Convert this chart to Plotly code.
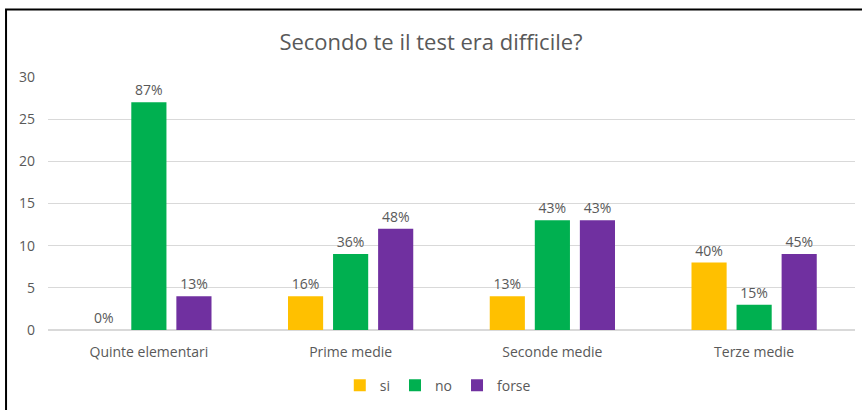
import plotly.graph_objects as go

categorie = ["Quinte elementari", "Prime medie", "Seconde medie", "Terze medie"]
si = [0, 4, 4, 8]
no = [27, 9, 13, 3]
forse = [4, 12, 13, 9]
perc_si = ["0%", "16%", "13%", "40%"]
perc_no = ["87%", "36%", "43%", "15%"]
perc_forse = ["13%", "48%", "43%", "45%"]

GRIGIO = "#595959"
FONT = "Open Sans"

fig = go.Figure()
for nome, valori, testi, colore in [("si", si, perc_si, "#FFC000"),
                                    ("no", no, perc_no, "#00B050"),
                                    ("forse", forse, perc_forse, "#7030A0")]:
    fig.add_trace(go.Bar(x=categorie, y=valori, name=nome,
                         marker={"color": colore, "line": {"width": 0}},
                         text=testi, textposition="outside",
                         textfont={"color": GRIGIO, "size": 14, "family": FONT},
                         cliponaxis=False))

fig.update_layout(
    width=862, height=410,
    margin={"l": 48, "r": 7, "t": 77, "b": 80, "autoexpand": False},
    paper_bgcolor="white", plot_bgcolor="white",
    font={"family": FONT, "color": GRIGIO, "size": 14},
    title={"text": "Secondo te il test era difficile?", "x": 0.5, "y": 0.897,
           "xanchor": "center", "yanchor": "middle",
           "font": {"size": 22, "color": GRIGIO, "family": FONT}},
    bargap=0.33, bargroupgap=0.22,
    xaxis={"showgrid": False, "tickfont": {"size": 14}, "ticks": "",
           "showline": True, "linecolor": "#D9D9D9", "automargin": False,
           "ticklabelstandoff": 9},
    yaxis={"range": [0, 30], "dtick": 5, "gridcolor": "#D9D9D9",
           "zeroline": True, "zerolinecolor": "#D9D9D9", "automargin": False,
           "tickfont": {"size": 14}, "ticklabelstandoff": 12},
    legend={"orientation": "h", "x": 0.483, "xanchor": "center",
            "y": -0.22, "yanchor": "middle", "font": {"size": 14},
            "itemwidth": 30},
    shapes=[{"type": "rect", "xref": "paper", "yref": "paper",
             "x0": -0.052, "x1": 1.1, "y0": -0.5, "y1": 1.267,
             "line": {"color": "black", "width": 2}}],
)

# niente margine del body, cosi la figura parte dall'angolo
fig.write_html("out.html", config={"displayModeBar": False},
               post_script="document.body.style.margin='0';")
